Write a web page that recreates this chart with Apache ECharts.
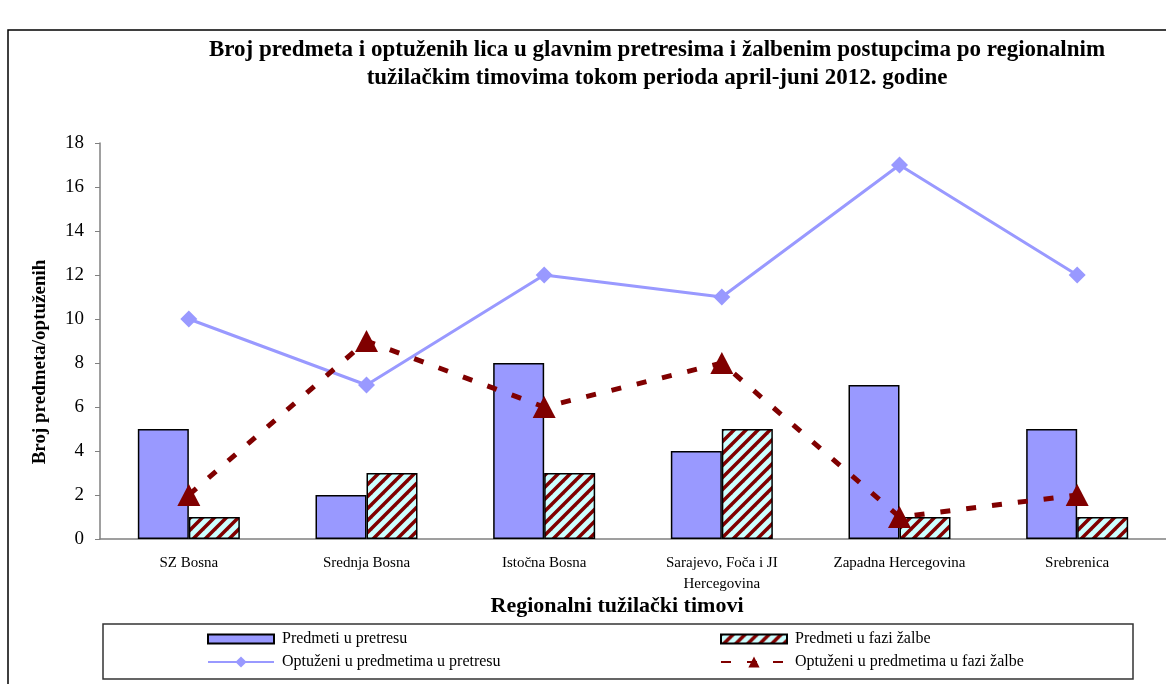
<!DOCTYPE html>
<html style="height: 100%">
    <head>
        <title>Broj predmeta i optuzenih</title>
        <script type="text/javascript" src="https://cdn.jsdelivr.net/npm/echarts@6/dist/echarts.min.js"></script>
    </head>
    <body style="height: 100%; margin: 0; background: #fff">
        <div id="target" style="width: 1166px; height: 684px"></div>

<script type="text/javascript">
// data
let categories = ["SZ Bosna", "Srednja Bosna", "Istočna Bosna", "Sarajevo, Foča i JI\nHercegovina", "Zapadna Hercegovina", "Srebrenica"];
let predmetiPretres = [5, 2, 8, 4, 7, 5];
let predmetiZalba   = [1, 3, 3, 5, 1, 1];
let optuzeniPretres = [10, 7, 12, 11, 17, 12];
let optuzeniZalba   = [2, 9, 6, 8, 1, 2];
let seriesNames = ["Predmeti u pretresu", "Predmeti u fazi žalbe", "Optuženi u predmetima u pretresu", "Optuženi u predmetima u fazi žalbe"];

let FONT = "'Liberation Serif', 'DejaVu Serif', serif";

// hatch pattern: dark red diagonal stripes on light cyan
let MakeHatch = () => {
    let c = document.createElement("canvas");
    c.width = 12;
    c.height = 12;
    let ctx = c.getContext("2d");
    ctx.fillStyle = "#CCFFFF";
    ctx.fillRect(0, 0, 12, 12);
    ctx.strokeStyle = "#800000";
    ctx.lineWidth = 3.5;
    for (let k = -1; k <= 1; ++k)
    {
        ctx.beginPath();
        ctx.moveTo(k * 12 - 2, 14);
        ctx.lineTo(k * 12 + 14, -2);
        ctx.stroke();
    }
    return c;
};

let chart = echarts.init(document.getElementById('target'));

let legendText = { fontFamily: FONT, fontSize: 16, color: "#000", padding: [0, 0, 0, 3] };
let MakeLegend = (name, left, top, icon, h) => ({
    data: [{ name: name, icon: icon }],
    left: left,
    top: top,
    itemWidth: 66,
    itemHeight: h,
    padding: 0,
    itemGap: 0,
    textStyle: legendText,
    selectedMode: false,
});

let option = {
    animation: false,
    backgroundColor: "#fff",
    grid: {
        left: 100,
        right: -4,
        top: 143,
        bottom: 145,
        containLabel: false,
    },
    legend: [
        MakeLegend(seriesNames[0], 207, 631, "rect", 9),
        MakeLegend(seriesNames[1], 720, 631, "rect", 9),
        MakeLegend(seriesNames[2], 207, 654, undefined, 14),
        MakeLegend(seriesNames[3], 720, 654, undefined, 14),
    ],
    graphic: [
        {
            type: "rect",
            shape: { x: 8, y: 30, width: 1175, height: 700 },
            style: { fill: null, stroke: "#000", lineWidth: 1.5 },
            silent: true,
        },
        {
            type: "rect",
            shape: { x: 103, y: 624, width: 1030, height: 55 },
            style: { fill: null, stroke: "#333", lineWidth: 1.5 },
            silent: true,
        },
        {
            type: "text",
            x: 657,
            y: 36,
            style: {
                text: "Broj predmeta i optuženih lica u glavnim pretresima i žalbenim postupcima po regionalnim\ntužilačkim timovima tokom perioda april-juni 2012. godine",
                fontFamily: FONT,
                fontSize: 23,
                fontWeight: "bold",
                lineHeight: 28,
                align: "center",
                fill: "#000",
            },
            silent: true,
        },
        {
            type: "text",
            x: 40,
            y: 362,
            rotation: Math.PI / 2,
            style: {
                text: "Broj predmeta/optuženih",
                fontFamily: FONT,
                fontSize: 19,
                fontWeight: "bold",
                align: "center",
                verticalAlign: "middle",
                fill: "#000",
            },
            silent: true,
        },
        {
            type: "text",
            x: 617,
            y: 606,
            style: {
                text: "Regionalni tužilački timovi",
                fontFamily: FONT,
                fontSize: 22,
                fontWeight: "bold",
                align: "center",
                verticalAlign: "middle",
                fill: "#000",
            },
            silent: true,
        },
    ],
    xAxis: {
        type: "category",
        data: categories,
        axisLine: { lineStyle: { color: "#808080", width: 1.5 } },
        axisTick: { length: 5, lineStyle: { color: "#808080" } },
        axisLabel: { fontFamily: FONT, fontSize: 15, color: "#000", margin: 14, lineHeight: 21, interval: 0 },
    },
    yAxis: {
        type: "value",
        min: 0,
        max: 18,
        interval: 2,
        axisLine: { show: true, lineStyle: { color: "#808080", width: 1.5 } },
        axisTick: { show: true, length: 5, lineStyle: { color: "#808080" } },
        axisLabel: { fontFamily: FONT, fontSize: 19, color: "#000", margin: 16 },
        splitLine: { show: false },
    },
    series: [
        {
            name: seriesNames[0],
            type: "bar",
            data: predmetiPretres,
            barWidth: 51,
            barGap: "0%",
            itemStyle: { color: "#9999FF", borderColor: "#000", borderWidth: 1.5 },
        },
        {
            name: seriesNames[1],
            type: "bar",
            data: predmetiZalba,
            barWidth: 51,
            barGap: "0%",
            itemStyle: {
                color: { image: MakeHatch(), repeat: "repeat" },
                borderColor: "#000",
                borderWidth: 1.5,
            },
        },
        {
            name: seriesNames[2],
            type: "line",
            data: optuzeniPretres,
            symbol: "diamond",
            symbolSize: 17,
            lineStyle: { color: "#9999FF", width: 3 },
            itemStyle: { color: "#9999FF" },
            z: 3,
        },
        {
            name: seriesNames[3],
            type: "line",
            data: optuzeniZalba,
            symbol: "triangle",
            symbolSize: [23, 22],
            lineStyle: { color: "#800000", width: 5, type: [10, 16] },
            itemStyle: { color: "#800000" },
            z: 4,
        },
    ],
};

chart.setOption(option);
</script>
    </body>
</html>
